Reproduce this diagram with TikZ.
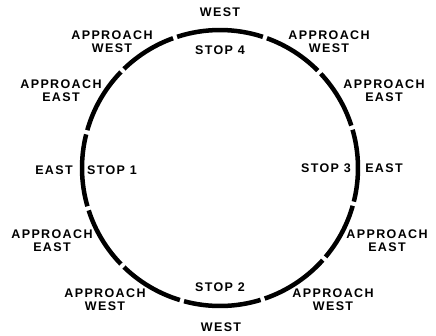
\documentclass[tikz,border=0pt]{standalone}
\usepackage{fontspec}
\setmainfont{Liberation Sans}[LetterSpace=11]
\usepackage{tikz}
\usetikzlibrary{positioning}

\begin{document}
\begin{tikzpicture}[
  x=1pt, y=1pt,
  lbl/.style={inner sep=0pt, align=center,
              font=\bfseries\fontsize{12.5}{13}\selectfont},
  track/.style={line width=4.5pt, black},
]
  \useasboundingbox (0,0) rectangle (436,335);
  \coordinate (ctr) at (220,167);

  \foreach \a/\b in {17/44, 44/71, 71/109, 109/135, 135/165, 165/197,
                     197/225, 225/254, 254/288, 288/319, 319/345, 345/377}
    \draw[track] (ctr) ++(\a+0.9:138) arc[start angle=\a+0.9, end angle=\b-0.9, radius=138];

  \node[lbl] (westN)     at (220,323) {WEST};
  \node[lbl] (stopfour)  at (220,285) {STOP 4};
  \node[lbl] (stoptwo)   at (220,48)  {STOP 2};
  \node[lbl] (westS)     at (221,8)   {WEST};
  \node[lbl] (eastW)     at (54,165)  {EAST};
  \node[lbl] (stopone)   at (112,165) {STOP 1};
  \node[lbl] (stopthree) at (326,167) {STOP 3};
  \node[lbl] (eastE)     at (384,167) {EAST};

  \node[lbl] (apNW) at (112,293) {APPROACH\\WEST};
  \node[lbl] (apWN) at (61,244)  {APPROACH\\EAST};
  \node[lbl] (apNE) at (329,293) {APPROACH\\WEST};
  \node[lbl] (apEN) at (384,244) {APPROACH\\EAST};
  \node[lbl] (apWS) at (52,94)   {APPROACH\\EAST};
  \node[lbl] (apSW) at (105,35)  {APPROACH\\WEST};
  \node[lbl] (apES) at (387,94)  {APPROACH\\EAST};
  \node[lbl] (apSE) at (333,35)  {APPROACH\\WEST};
\end{tikzpicture}
\end{document}
